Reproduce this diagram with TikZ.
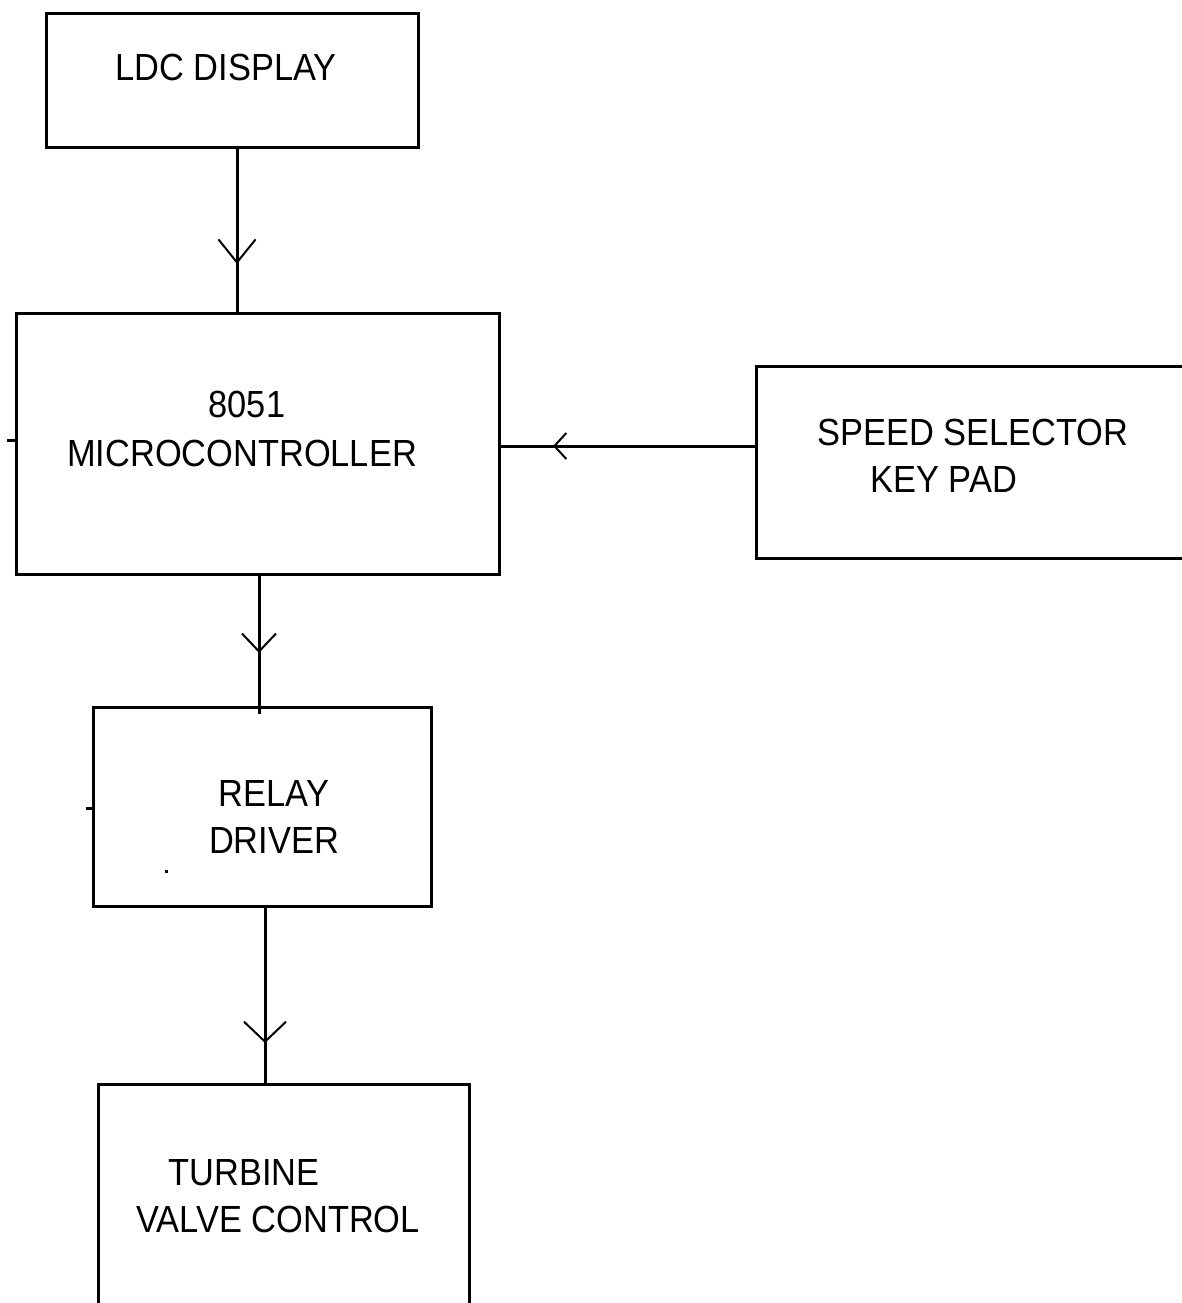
\documentclass[tikz,border=0pt]{standalone}
\usepackage{fontspec}
\setmainfont{Liberation Sans}[FakeStretch=0.91]
\usetikzlibrary{arrows.meta,decorations.markings}

\tikzset{
  blockbox/.style={draw, line width=1.5pt, inner sep=0pt, outer sep=0pt, anchor=north west},
  label/.style={anchor=base, inner sep=0pt, font=\fontsize{18.9pt}{22pt}\selectfont},
  conn/.style={line width=1.5pt},
  stub/.style={line width=1.5pt},
  % open "V" arrowhead placed part-way along a connector
  barbat/.style args={#1 len #2 wid #3}{postaction={decorate, decoration={markings,
      mark=at position #1 with {\arrow[line width=1pt]{Straight Barb[length=#2pt,width=#3pt]}}}}}
}

\begin{document}
\begin{tikzpicture}[x=0.5pt,y=-0.5pt]
  \useasboundingbox (0,0) rectangle (1182,1303);
  \clip (0,0) rectangle (1182,1303);

  % blocks
  \node[blockbox, minimum width=186pt, minimum height=67pt]   (ldc)   at (46,13)   {};
  \node[blockbox, minimum width=241.5pt, minimum height=130.5pt] (micro) at (16,313) {};
  \node[blockbox, minimum width=250pt, minimum height=96pt]   (speed) at (756,366) {};
  \node[blockbox, minimum width=169pt, minimum height=99.5pt] (relay) at (93,707)  {};
  \node[blockbox, minimum width=185.5pt, minimum height=150pt] (valve) at (98,1084) {};

  % block captions
  \node[label] (tldc)  at (226,80.5) {LDC DISPLAY};
  \node[label] (tmc1)  at (247,417)  {8051};
  \node[label] (tmc2)  at (242,466)  {MICROCONTROLLER};
  \node[label] (tsp1)  at (973,445)  {SPEED SELECTOR};
  \node[label, anchor=base west] (tsp2) at (870,492) {KEY PAD};
  \node[label] (trl1)  at (274,806)  {RELAY};
  \node[label] (trl2)  at (274,853)  {DRIVER};
  \node[label] (tvc1)  at (244,1185) {TURBINE};
  \node[label] (tvc2)  at (278,1232) {VALVE CONTROL};

  % connectors
  \draw[conn, barbat=0.705 len 11.5 wid 18.5] (ldc.south -| 237,0) -- (micro.north -| 237,0);
  \draw[conn, barbat=0.79 len 6 wid 13] (speed.west |- 0,446) -- (micro.east |- 0,446);
  \draw[conn, barbat=0.564 len 9 wid 17] (micro.south -| 259,0) -- ([yshift=-3.5pt]relay.north -| 259,0);
  \draw[conn, barbat=0.77 len 10 wid 21] (relay.south -| 265,0) -- (valve.north -| 265,0);

  % short stubs on the left edges
  \draw[stub] (micro.west |- 0,440) -- (7,440);
  \draw[stub] (relay.west |- 0,808) -- (86,808);

  % stray dot
  \fill (164.5,869.5) rectangle (167.5,872.5);
\end{tikzpicture}
\end{document}
